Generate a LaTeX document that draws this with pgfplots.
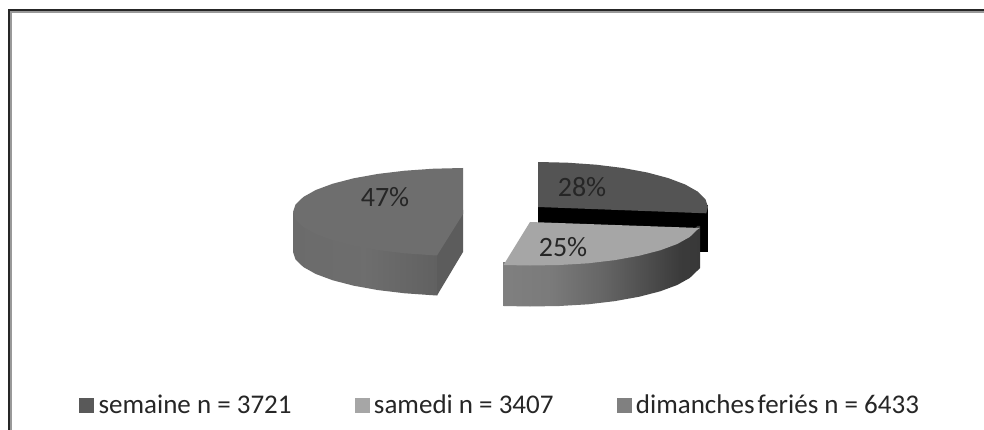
\documentclass[border=0pt]{standalone}
\usepackage{fontspec}
\setmainfont{Carlito}
\usepackage{pgfplots}
\pgfplotsset{compat=1.18}

\definecolor{topA}{HTML}{545454}
\definecolor{topB}{HTML}{A6A6A6}
\definecolor{topC}{HTML}{6E6E6E}
\definecolor{swA}{HTML}{595959}
\definecolor{swB}{HTML}{A6A6A6}
\definecolor{swC}{HTML}{808080}
\definecolor{txt}{HTML}{262626}

% side wall gradients (horizontal, light to dark)
\pgfdeclarehorizontalshading{wallB}{100bp}{
  color(0bp)=(black!50!white); color(25bp)=(black!50!white);
  color(37bp)=(black!52!white); color(50bp)=(black!60!white);
  color(62bp)=(black!70!white); color(70bp)=(black!77!white);
  color(75bp)=(black!78!white); color(100bp)=(black!78!white)}
\pgfdeclarehorizontalshading{wallC}{100bp}{
  color(0bp)=(black!58!white); color(25bp)=(black!58!white);
  color(50bp)=(black!57!white); color(65bp)=(black!60!white);
  color(75bp)=(black!62!white); color(100bp)=(black!62!white)}

\begin{document}
\begin{tikzpicture}
\begin{axis}[
    scale only axis,
    width=984pt, height=430pt,
    xmin=0, xmax=984,
    ymin=0, ymax=430,
    y dir=reverse,
    hide axis,
    legend columns=3,
    legend cell align=left,
    legend style={
        draw=none, fill=none,
        at={(axis cs:79,405)}, anchor=west,
        inner xsep=0pt, inner ysep=0pt,
        font=\fontsize{27}{30}\selectfont\color{txt},
        /tikz/every even column/.append style={column sep=61pt},
    },
]
% page
\addplot[fill=white, draw=none, forget plot] coordinates {(0,0)(984,0)(984,430)(0,430)};
% frame, top and left only
\addplot[black!85, line width=2.4pt, forget plot] coordinates {(9,430)(9,10)(984,10)};
\addplot[black!40, line width=1.4pt, forget plot] coordinates {(11,430)(11,12)(984,12)};

% 47% slice: cut face, wall, top (wall runs a little under the top face)
\addplot[fill=black!64, draw=none, forget plot] coordinates {(437,252)(463,210)(463,252)(437,295.5)};
\addplot[shade, shading=wallC, draw=none, forget plot] coordinates {
    (293,212)(295.6,216)(303.3,223)(315.8,230)(332.8,236)(353.7,241)(378,246)(404.9,249)(433.5,251)(437,251)
    (437,295.5)(433.5,295.3)(404.9,293.3)(378,290.1)(353.7,285.7)(332.8,280.3)(315.8,274)(303.3,267)(295.6,259.6)(293,252)};
\addplot[fill=topC, draw=none, forget plot] coordinates {
    (463,168)(433.5,168.7)(404.9,170.7)(378,173.9)(353.7,178.3)(332.8,183.7)(315.8,190)(303.3,197)(295.6,204.4)(293,212)
    (295.6,219.6)(303.3,227)(315.8,234)(332.8,240.3)(353.7,245.7)(378,250.1)(404.9,253.3)(433.5,255.3)(437,255.5)(463,214)};

% 28% slice: black inner face, top
\addplot[fill=black, draw=none, forget plot] coordinates {(538,205)(708,205)(708,252)(538,252)};
\addplot[fill=topA, draw=none, forget plot] coordinates {
    (538,162)(567.5,162.7)(596.1,164.7)(623,168)(647.3,172.5)(668.2,178.1)(685.2,184.5)(697.7,191.6)(705.4,199.2)(708,207)(706.3,213.3)(538,207)};

% 25% slice: wall, top
\addplot[shade, shading=wallB, draw=none, forget plot] coordinates {
    (503.5,262)(530,262)(559.5,261)(588.1,259)(615,256)(639.3,252)(660.2,246)(677.2,240)(689.7,233)(697.4,226)(700,226)
    (700,268)(697.4,270.6)(689.7,278)(677.2,285)(660.2,291.3)(639.3,296.7)(615,301.1)(588.1,304.3)(559.5,306)(530,306.5)(503.5,306)};
\addplot[fill=topB, draw=none, forget plot] coordinates {
    (530,222)(700,228)(697.4,229.6)(689.7,237)(677.2,244)(660.2,250.3)(639.3,255.7)(615,260.1)(588.1,263.3)(559.5,265)(530,265.5)(503.5,265)};

% labels
\node[text=txt, font=\fontsize{28}{30}\selectfont] at (axis cs:385,197) {47\%};
\node[text=txt, font=\fontsize{28}{30}\selectfont] at (axis cs:582,187) {28\%};
\node[text=txt, font=\fontsize{28}{30}\selectfont] at (axis cs:563,247) {25\%};

% legend
\addlegendimage{legend image code/.code={\fill[swA] (0pt,-7pt) rectangle (14pt,7pt); \path (17pt,0pt);}}
\addlegendentry{semaine n = 3721}
\addlegendimage{legend image code/.code={\fill[swB] (0pt,-7pt) rectangle (14pt,7pt); \path (17pt,0pt);}}
\addlegendentry{samedi n = 3407}
\addlegendimage{legend image code/.code={\fill[swC] (0pt,-7pt) rectangle (14pt,7pt); \path (17pt,0pt);}}
\addlegendentry{dimanches\hspace{-3pt} feriés n = 6433}
\end{axis}
\end{tikzpicture}
\end{document}
